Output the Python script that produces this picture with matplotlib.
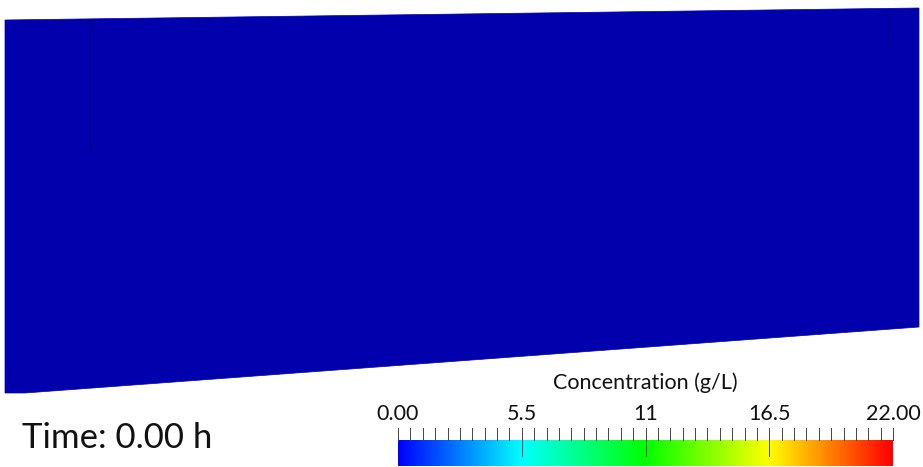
import numpy as np
import matplotlib.pyplot as plt
from matplotlib.colors import LinearSegmentedColormap
from matplotlib.patches import Polygon

# domain outline (pixel-ish model coordinates, y downwards)
domain_x = [5, 919, 919, 25, 5]
domain_y = [20, 8, 327, 393, 393]
concentration = 0.0          # g/L at t = 0
time_h = 0.00

# colour scale
cmin, cmax = 0.0, 22.0
tick_values = [5.5, 11, 16.5]
tick_labels = ["5.5", "11", "16.5"]
rainbow = LinearSegmentedColormap.from_list(
    "blue_red", ["#0000ff", "#00ffff", "#00ff00", "#ffff00", "#ff0000"])

fig = plt.figure(figsize=(9.23, 4.67), dpi=100)
ax = fig.add_axes([0, 0, 1, 1])
ax.set_xlim(0, 923)
ax.set_ylim(467, 0)
ax.axis("off")

# field (shaded a bit like the lit surface in the render)
c = np.array(rainbow((concentration - cmin) / (cmax - cmin)))
shade = 0.68
face = (c[0] * shade, c[1] * shade, c[2] * shade)
ax.add_patch(Polygon(np.column_stack([domain_x, domain_y]), closed=True,
                     facecolor=face, edgecolor=face, lw=0.5))
# mesh seams visible in the render
ax.plot([90, 90], [22, 150], color="#00007a", lw=0.8)
ax.plot([889, 889], [10, 45], color="#00007a", lw=0.8)

ax.text(22, 438, f"Time: {time_h:.2f} h", fontsize=25, family="Lato",
        va="center", ha="left", color="#111111")

# colour bar
cax = fig.add_axes([398 / 923, 1 - 466 / 467, (893 - 398) / 923, 26 / 467])
grad = np.linspace(cmin, cmax, 256).reshape(1, -1)
cax.imshow(grad, aspect="auto", cmap=rainbow, extent=[cmin, cmax, 0, 1])
cax.set_xlim(cmin, cmax)
cax.set_ylim(0, 1)
cax.axis("off")

# tick marks above the bar
tax = fig.add_axes([398 / 923, 1 - 440 / 467, (893 - 398) / 923, 12 / 467])
tax.set_xlim(cmin, cmax)
tax.set_ylim(0, 1)
tax.axis("off")
for v in np.linspace(cmin, cmax, 41):
    tax.plot([v, v], [0, 1], color="#444444", lw=0.7, clip_on=False)
for v in tick_values:
    cax.plot([v, v], [0.4, 1], color="#444444", lw=0.7)

lab_kw = dict(fontsize=15.5, family="Lato", color="#111111", va="center")
tax.text(cmin, 2.2, f"{cmin:.2f}", ha="center", **lab_kw)
tax.text(cmax, 2.2, f"{cmax:.2f}", ha="center", **lab_kw)
for v, s in zip(tick_values, tick_labels):
    tax.text(v, 2.2, s, ha="center", **lab_kw)
tax.text((cmin + cmax) / 2, 4.8, "Concentration (g/L)", ha="center", **lab_kw)

fig.savefig("out.png", dpi=100)
